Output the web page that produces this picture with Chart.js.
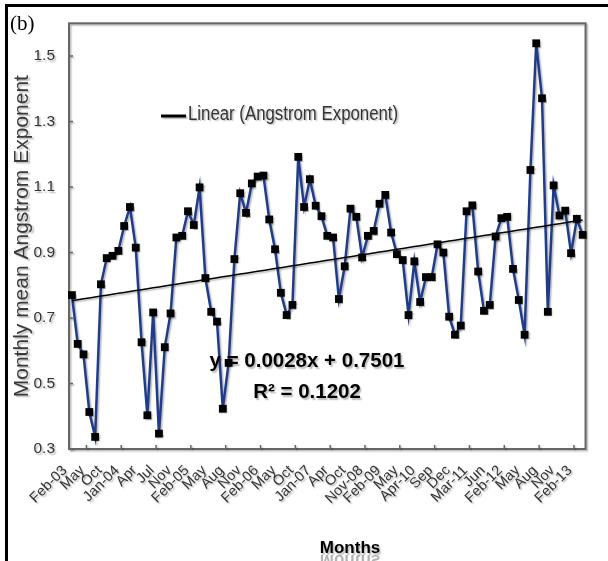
<!DOCTYPE html>
<html lang="en">
<head>
<meta charset="UTF-8">
<title>Monthly mean Angstrom Exponent</title>
<script src="https://cdn.jsdelivr.net/npm/chart.js@4"></script>
<style>
  * { box-sizing: border-box; margin: 0; padding: 0; }
  body { background: #fff; width: 608px; height: 561px; overflow: hidden; }
  .panel { position: relative; width: 608px; height: 561px; }
  .panel canvas { position: absolute; left: 0; top: 0; }
  .frame { position: absolute; left: 5px; top: 4px; width: 640px; height: 600px; border-top: 3px solid #000; border-left: 3px solid #000; pointer-events: none; }
  .tag { position: absolute; left: 10px; top: 11px; font: 21px 'Liberation Serif', 'Times New Roman', serif; color: #000; }
</style>
</head>
<body>
<div class="panel">
  <canvas id="aeChart" width="608" height="561"></canvas>
  <div class="frame"></div>
  <div class="tag">(b)</div>
</div>
<script>
// Category labels shown on the axis (every third month of the record)
const tickLabels = ['Feb-03', 'May', 'Oct', 'Jan-04', 'Apr', 'Jul', 'Nov', 'Feb-05', 'May', 'Aug',
  'Nov', 'Feb-06', 'May', 'Oct', 'Jan-07', 'Apr', 'Oct', 'Nov-08', 'Feb-09', 'May',
  'Apr-10', 'Sep', 'Dec', 'Mar-11', 'Jun', 'Feb-12', 'May', 'Aug', 'Nov', 'Feb-13'];

// Monthly mean Angstrom exponent, one value per month in the record
const aeValues = [
  0.770, 0.621, 0.589, 0.413, 0.337, 0.803, 0.883, 0.890, 0.905, 0.981,
  1.039, 0.915, 0.626, 0.403, 0.717, 0.347, 0.611, 0.714, 0.946, 0.951,
  1.026, 0.984, 1.099, 0.822, 0.719, 0.689, 0.423, 0.563, 0.880, 1.081,
  1.021, 1.111, 1.132, 1.135, 1.001, 0.910, 0.777, 0.709, 0.740, 1.192,
  1.039, 1.124, 1.043, 1.011, 0.951, 0.946, 0.758, 0.858, 1.034, 1.009,
  0.885, 0.951, 0.966, 1.049, 1.076, 0.961, 0.895, 0.877, 0.709, 0.873,
  0.749, 0.825, 0.825, 0.925, 0.900, 0.704, 0.649, 0.677, 1.026, 1.044,
  0.842, 0.722, 0.740, 0.949, 1.005, 1.009, 0.850, 0.755, 0.649, 1.152,
  1.539, 1.371, 0.719, 1.105, 1.013, 1.028, 0.898, 1.003, 0.954
];

// Linear fit reported on the chart
const trendSlope = 0.0028;
const trendIntercept = 0.7501;
const trendR2 = 0.1202;

const yTicks = [0.3, 0.5, 0.7, 0.9, 1.1, 1.3, 1.5];

const labels = aeValues.map((_, i) => (i % 3 === 0 ? tickLabels[i / 3] : ''));
// trendline uses month number starting at 1
const trendValues = aeValues.map((_, i) => trendSlope * (i + 1) + trendIntercept);

const ARIAL = "'Liberation Sans', Arial, sans-serif";

function setShadow(ctx, on) {
  ctx.shadowColor = on ? 'rgba(0, 0, 0, 0.28)' : 'rgba(0, 0, 0, 0)';
  ctx.shadowOffsetX = on ? 1.5 : 0;
  ctx.shadowOffsetY = on ? 1.5 : 0;
  ctx.shadowBlur = on ? 1.5 : 0;
}

// ── Plot frame, inward ticks, legend, fit equation, axis title ──────────────
const decor = {
  id: 'decor',
  beforeDraw(chart) {
    setShadow(chart.ctx, true);
  },
  beforeDatasetsDraw(chart) {
    const { ctx, chartArea: a, scales: { x, y } } = chart;
    ctx.save();
    ctx.strokeStyle = '#666';
    ctx.lineWidth = 2;
    ctx.strokeRect(a.left, a.top, a.right - a.left, a.bottom - a.top);
    ctx.lineWidth = 1.5;
    ctx.beginPath();
    for (const v of yTicks) {
      const py = y.getPixelForValue(v);
      ctx.moveTo(a.left, py);
      ctx.lineTo(a.left + 4, py);
    }
    for (let k = 3; k < aeValues.length; k += 6) {
      const px = (x.getPixelForValue(k - 1) + x.getPixelForValue(k)) / 2;
      ctx.moveTo(px, a.bottom);
      ctx.lineTo(px, a.bottom - 4);
    }
    ctx.stroke();
    ctx.restore();
  },
  afterDraw(chart) {
    const ctx = chart.ctx;
    const trend = chart.data.datasets[0];
    ctx.save();

    ctx.strokeStyle = trend.borderColor;
    ctx.lineWidth = 3;
    ctx.beginPath();
    ctx.moveTo(161, 116);
    ctx.lineTo(186, 116);
    ctx.stroke();
    // narrow legend lettering
    ctx.save();
    ctx.translate(188, 114);
    ctx.scale(0.84, 1);
    ctx.fillStyle = '#333';
    ctx.font = `20px ${ARIAL}`;
    ctx.textBaseline = 'middle';
    ctx.fillText(trend.label, 0, 0);
    ctx.restore();

    ctx.fillStyle = '#000';
    ctx.font = `bold 20.5px ${ARIAL}`;
    ctx.textAlign = 'center';
    ctx.textBaseline = 'alphabetic';
    ctx.fillText(`y = ${trendSlope.toFixed(4)}x + ${trendIntercept.toFixed(4)}`, 307, 367);
    ctx.fillText(`R² = ${trendR2.toFixed(4)}`, 307, 398);

    ctx.font = `bold 17px ${ARIAL}`;
    ctx.fillText('Months', 350, 553);
    // faint mirrored copy under the title
    setShadow(ctx, false);
    ctx.globalAlpha = 0.3;
    ctx.translate(0, 2 * 554);
    ctx.scale(1, -1);
    ctx.fillText('Months', 350, 553);
    ctx.restore();
    setShadow(ctx, false);
  }
};

new Chart(document.getElementById('aeChart'), {
  type: 'line',
  data: {
    labels: labels,
    datasets: [
      {
        label: 'Linear (Angstrom Exponent)',
        data: trendValues,
        borderColor: '#000',
        borderWidth: 1.5,
        pointRadius: 0,
        order: 0
      },
      {
        label: 'Angstrom Exponent',
        data: aeValues,
        borderColor: '#1f3c8c',
        borderWidth: 2.5,
        pointStyle: 'rect',
        pointRadius: 5.5,
        pointBackgroundColor: '#000',
        pointBorderColor: '#000',
        pointBorderWidth: 0,
        tension: 0,
        clip: false,
        order: 1
      }
    ]
  },
  options: {
    responsive: false,
    animation: false,
    layout: { padding: { left: 0, top: 20, right: 11, bottom: 0 } },
    plugins: { legend: { display: false }, tooltip: { enabled: false } },
    scales: {
      x: {
        offset: true,
        grid: { display: false, drawTicks: false },
        border: { display: false },
        ticks: {
          autoSkip: false,
          minRotation: 45,
          maxRotation: 45,
          padding: 13,
          labelOffset: -7,
          color: '#333',
          font: { family: ARIAL, size: 14.5 }
        },
        afterFit: s => { s.height = 112; }
      },
      y: {
        min: 0.3,
        max: 1.6,
        grid: { display: false, drawTicks: false },
        border: { display: false },
        afterBuildTicks: s => { s.ticks = yTicks.map(v => ({ value: v })); },
        ticks: {
          padding: 14,
          color: '#333',
          font: { family: ARIAL, size: 15.5 },
          callback: v => v.toFixed(1)
        },
        title: {
          display: true,
          text: 'Monthly mean Angstrom Exponent',
          color: '#3a3a3a',
          font: { family: ARIAL, size: 21 },
          padding: { top: 10, bottom: 0 }
        },
        afterFit: s => { s.width = 69; }
      }
    }
  },
  plugins: [decor]
});
</script>
</body>
</html>
